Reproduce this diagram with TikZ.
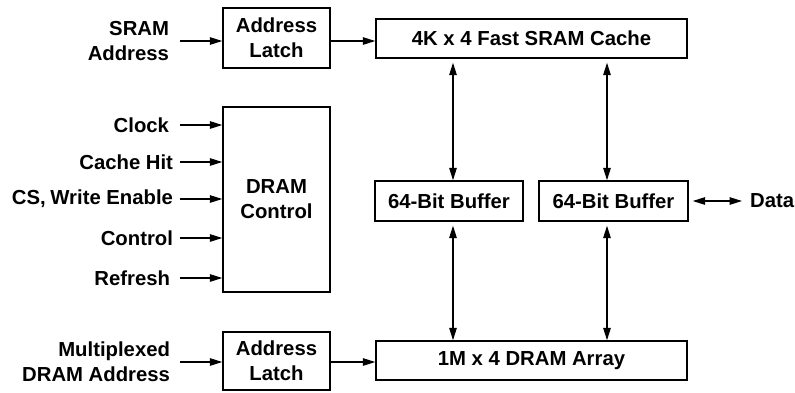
\documentclass[tikz,border=0pt]{standalone}
\usepackage{fontspec}
\setmainfont{Liberation Sans}
\usetikzlibrary{arrows.meta}
\tikzset{
  txt/.style={font=\bfseries\fontsize{20.3}{25}\selectfont},
  blk/.style={txt, draw, line width=1.4pt, inner sep=0pt, align=center},
  lbl/.style={txt, inner sep=0pt, outer sep=0pt, align=right, anchor=east},
  tip/.tip={Triangle[length=12.5pt,width=7.5pt]},
  arr/.style={line width=1.3pt, -tip},
  dbl/.style={line width=1.3pt, tip-tip, shorten <=4pt}
}
\begin{document}
\begin{tikzpicture}[x=1pt,y=-1pt]
\useasboundingbox (0,0) rectangle (795,392);

% blocks
\node[blk, minimum width=107pt, minimum height=60pt] (latchA) at (276.5,38) {Address\\Latch};
\node[blk, minimum width=311pt, minimum height=39pt] (cache) at (531.5,38.5) {4K x 4 Fast SRAM Cache};
\node[blk, minimum width=107pt, minimum height=185pt] (ctrl) at (276.5,199.5) {DRAM\\Control};
\node[blk, minimum width=148pt, minimum height=40pt] (buf1) at (449,201) {64-Bit Buffer};
\node[blk, minimum width=149pt, minimum height=40pt] (buf2) at (613.5,201) {64-Bit Buffer};
\node[blk, minimum width=311pt, minimum height=39pt] (dram) at (531.5,360.5) {1M x 4 DRAM Array};
\node[blk, minimum width=107pt, minimum height=58pt] (latchB) at (276.5,361) {Address\\Latch};

% input labels, right-aligned just left of the arrow tails
\node[lbl] (sa) at (169,41) {SRAM\\Address};
\node[lbl] (clk) at (169,125) {Clock};
\node[lbl] (hit) at (173,162) {Cache Hit};
\node[lbl] (cs) at (173,199) {CS,\kern-1pt\ Write Enable};
\node[lbl] (ctl) at (173,238) {Control};
\node[lbl] (ref) at (170,278) {Refresh};
\node[lbl] (mux) at (170,362) {Multiplexed\\DRAM Address};
\node[txt, inner sep=0pt, anchor=west] (data) at (750,201) {Data};

% column positions of the vertical data paths
\coordinate (c1) at (453,0);
\coordinate (c2) at (607,0);
\coordinate (t0) at (180,0);

% address paths
\draw[arr] (sa.east -| t0) -- (sa.east -| latchA.west);
\draw[arr] (latchA.east |- sa.east) -- (cache.west |- sa.east);
\draw[arr] (mux.east -| t0) -- (mux.east -| latchB.west);
\draw[arr] (latchB.east |- mux.east) -- (dram.west |- mux.east);

% control inputs
\foreach \s in {clk,hit,cs,ctl,ref}
  \draw[arr] (\s.east -| t0) -- (\s.east -| ctrl.west);

% data paths
\draw[dbl] (cache.south -| c1) -- (buf1.north -| c1);
\draw[dbl] (cache.south -| c2) -- (buf2.north -| c2);
\draw[dbl] (buf1.south -| c1) -- (dram.north -| c1);
\draw[dbl] (buf2.south -| c2) -- (dram.north -| c2);
\draw[dbl] (buf2.east) -- ([xshift=-8pt]data.west);
\end{tikzpicture}
\end{document}
